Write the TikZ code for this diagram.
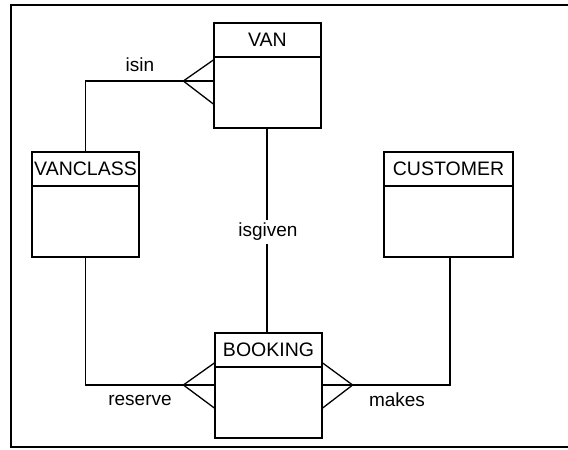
\documentclass[tikz,border=0pt]{standalone}
\usepackage{fontspec}
\setmainfont{Liberation Sans}
\begin{document}
\begin{tikzpicture}[x=1pt,y=-1pt,
  line width=1.3pt,
  entity/.style={draw, rectangle, minimum width=107pt, minimum height=105pt, inner sep=0pt, line width=1.3pt},
  title/.style={font=\fontsize{19.5}{21}\selectfont, inner sep=0pt, anchor=center},
  lbl/.style={font=\fontsize{19}{21}\selectfont, inner sep=1pt},
  frame/.style={line width=1.8pt}]
\useasboundingbox (0,0) rectangle (568,450);
% frame
\coordinate (ftr) at (568,5);
\coordinate (ftl) at (11,5);
\coordinate (fbl) at (11,447);
\coordinate (fbr) at (568,447);
\draw[frame] (ftr) -- (ftl) -- (fbl) -- (fbr);
% entities
\node[entity] (VAN) at (267.5,75.5) {};
\node[entity] (VANCLASS) at (85.5,204.5) {};
\node[entity, minimum width=129pt] (CUSTOMER) at (448.5,204.5) {};
\node[entity] (BOOKING) at (268.5,385.5) {};
% header lines
\foreach \e in {VAN,VANCLASS,CUSTOMER,BOOKING}{
  \draw ([yshift=-34.5pt]\e.north west) -- ([yshift=-34.5pt]\e.north east);
}
% titles
\node[title] (tVAN) at ([yshift=-17.5pt]VAN.north) {VAN};
\node[title] (tVANCLASS) at ([yshift=-17pt]VANCLASS.north) {VANCLASS};
\node[title] (tCUSTOMER) at ([yshift=-17pt]CUSTOMER.north) {CUSTOMER};
\node[title] (tBOOKING) at ([yshift=-17pt]BOOKING.north) {BOOKING};
% isin: VANCLASS -> VAN
\coordinate (isinE) at ([yshift=-5.5pt]VAN.west);
\coordinate (isinA) at ([xshift=-30pt]isinE);
\draw (VANCLASS.north) |- (isinE);
\draw ([yshift=21pt]isinE) -- (isinA) -- ([yshift=-23pt]isinE);
\node[lbl] (lisin) at (140,65) {isin};
% isgiven: VAN -> BOOKING
\draw (VAN.south -| 267,0) -- (BOOKING.north -| 267,0);
\node[lbl, fill=white, inner sep=3pt] (lisgiven) at (268,232) {isgiven};
% reserve: VANCLASS -> BOOKING
\coordinate (resE) at ([yshift=0.5pt]BOOKING.west);
\coordinate (resA) at ([xshift=-31pt]resE);
\draw (VANCLASS.south) |- (resE);
\draw ([yshift=22pt]resE) -- (resA) -- ([yshift=-23pt]resE);
\node[lbl] (lreserve) at (140,400) {reserve};
% makes: CUSTOMER -> BOOKING
\coordinate (makE) at ([yshift=0.5pt]BOOKING.east);
\coordinate (makA) at ([xshift=30pt]makE);
\draw ([xshift=1.5pt]CUSTOMER.south) |- (makE);
\draw ([yshift=22pt]makE) -- (makA) -- ([yshift=-23pt]makE);
\node[lbl] (lmakes) at (397,400) {makes};
\end{tikzpicture}
\end{document}
